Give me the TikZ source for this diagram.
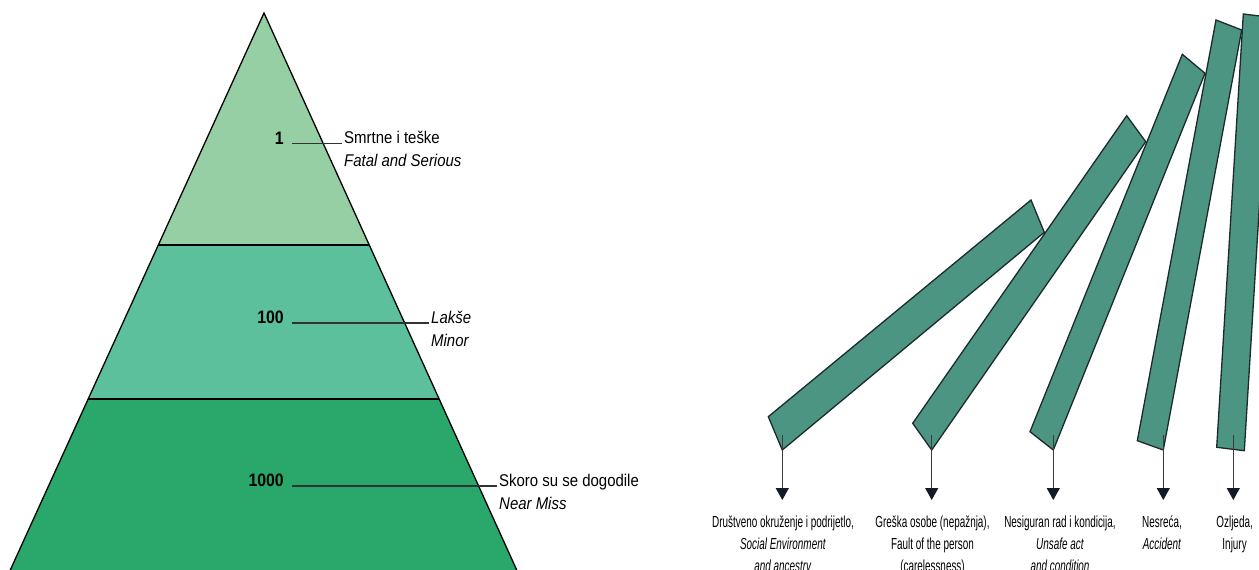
\documentclass[tikz,border=0pt]{standalone}
\usepackage{fontspec}
\setmainfont{Liberation Sans}
\newfontfamily\pyrfont{Liberation Sans}[FakeStretch=0.88]
\newfontfamily\domfont{Liberation Sans}[FakeStretch=0.62]
\usetikzlibrary{arrows.meta,calc}
\definecolor{bandA}{RGB}{151,207,165}
\definecolor{bandB}{RGB}{91,192,155}
\definecolor{bandC}{RGB}{42,168,107}
\definecolor{domc}{RGB}{76,149,131}
\definecolor{domedge}{RGB}{28,42,44}
\definecolor{leadc}{RGB}{50,50,50}
\definecolor{arrline}{RGB}{60,60,64}
\definecolor{arrhead}{RGB}{20,26,40}
\newcommand\cstack[1]{\vtop{\halign{\hfil##\hfil\cr#1\crcr}}}
\newcommand\lstack[1]{\vtop{\halign{##\hfil\cr#1\crcr}}}
\tikzset{
  band/.style={draw=black,line width=1.3pt,line join=miter},
  pyrnum/.style={inner sep=0pt,font=\pyrfont\bfseries\fontsize{18}{24}\selectfont},
  pyrtxt/.style={inner sep=0pt,font=\pyrfont\fontsize{17}{23}\selectfont},
  leader/.style={draw=leadc,line width=1.6pt},
  domino/.style={fill=domc,draw=domedge,line width=1.3pt,line join=miter},
  domlbl/.style={inner sep=0pt,font=\domfont\fontsize{16}{22}\selectfont},
  arr/.style={draw=arrline,line width=1.1pt,-{Triangle[width=13pt,length=12pt,color=arrhead,fill=arrhead]}}
}
\begin{document}
\begin{tikzpicture}[x=1pt,y=-1pt]
\useasboundingbox (0,0) rectangle (1259,570);
\clip (0,0) rectangle (1259,570);
\fill[white] (0,0) rectangle (1259,570);
% pyramid bands
\coordinate (apex) at (264,13);
\coordinate (l1) at (158.2,245);
\coordinate (r1) at (369.4,245);
\coordinate (l2) at (88,399);
\coordinate (r2) at (439.3,399);
\coordinate (l3) at (8,575);
\coordinate (r3) at (519,575);
\fill[bandC] (l2) -- (r2) -- (r3) -- (l3) -- cycle;
\fill[bandB] (l1) -- (r1) -- (r2) -- (l2) -- cycle;
\fill[bandA] (apex) -- (r1) -- (l1) -- cycle;
\draw[band] (l3) -- (apex) -- (r3);
\draw[band] (l1) -- (r1);
\draw[band] (l2) -- (r2);
% pyramid labels
\node[pyrnum,anchor=base east] (n1) at (284,144) {1};
\node[pyrtxt,anchor=base west] (t1) at (344,143) {\lstack{Smrtne i teške\cr\textit{Fatal and Serious}}};
\node[pyrnum,anchor=base east] (n2) at (284,323) {100};
\node[pyrtxt,anchor=base west] (t2) at (431,323) {\lstack{\textit{Lakše}\cr\textit{Minor}}};
\node[pyrnum,anchor=base east] (n3) at (284,486) {1000};
\node[pyrtxt,anchor=base west] (t3) at (499,486) {\lstack{Skoro su se dogodile\cr\textit{Near Miss}}};
\draw[leader] ($(n1.base east)+(8,-0.5)$) -- ($(n1.base -| t1.west)+(-2,-0.5)$);
\draw[leader] ($(n2.base east)+(8,0)$) -- ($(n2.base -| t2.west)+(-2,0)$);
\draw[leader] ($(n3.base east)+(8,0)$) -- ($(n3.base -| t3.west)+(-2,0)$);
% dominoes
\filldraw[domino] (1216.7,447.3) -- (1244.3,450.7) -- (1271,17.4) -- (1243.3,14) -- cycle;
\filldraw[domino] (1137.3,440.7) -- (1163.3,450) -- (1241.7,30) -- (1216,20) -- cycle;
\filldraw[domino] (1030,431.7) -- (1053.3,450) -- (1205,73.3) -- (1182.3,54.3) -- cycle;
\filldraw[domino] (912.7,423.3) -- (931.7,450) -- (1145.7,141.7) -- (1126.7,115.7) -- cycle;
\filldraw[domino] (768.3,416.7) -- (782.3,450) -- (1044.3,232.3) -- (1031,200) -- cycle;
% arrows
\coordinate (s1) at (782.3,435);  \coordinate (e1) at (782.3,500);
\coordinate (s2) at (931.7,435);  \coordinate (e2) at (931.7,500);
\coordinate (s3) at (1053.3,435); \coordinate (e3) at (1053.3,500);
\coordinate (s4) at (1163.3,435); \coordinate (e4) at (1163.3,500);
\coordinate (s5) at (1233.3,435); \coordinate (e5) at (1233.3,500);
\draw[arr] (s1) -- (e1);
\draw[arr] (s2) -- (e2);
\draw[arr] (s3) -- (e3);
\draw[arr] (s4) -- (e4);
\draw[arr] (s5) -- (e5);
% labels
\node[domlbl,anchor=base] (b1) at (783,527) {\cstack{Društveno okruženje i podrijetlo,\cr\textit{Social Environment}\cr\textit{and ancestry}}};
\node[domlbl,anchor=base] (b2) at (932.5,527) {\cstack{Greška osobe (nepažnja),\cr Fault of the person\cr (carelessness)}};
\node[domlbl,anchor=base] (b3) at (1060,527) {\cstack{Nesiguran rad i kondicija,\cr\textit{Unsafe act}\cr\textit{and condition}}};
\node[domlbl,anchor=base] (b4) at (1162,527) {\cstack{Nesreća,\cr\textit{Accident}}};
\node[domlbl,anchor=base] (b5) at (1234.6,527) {\cstack{Ozljeda,\cr Injury}};
\end{tikzpicture}
\end{document}
